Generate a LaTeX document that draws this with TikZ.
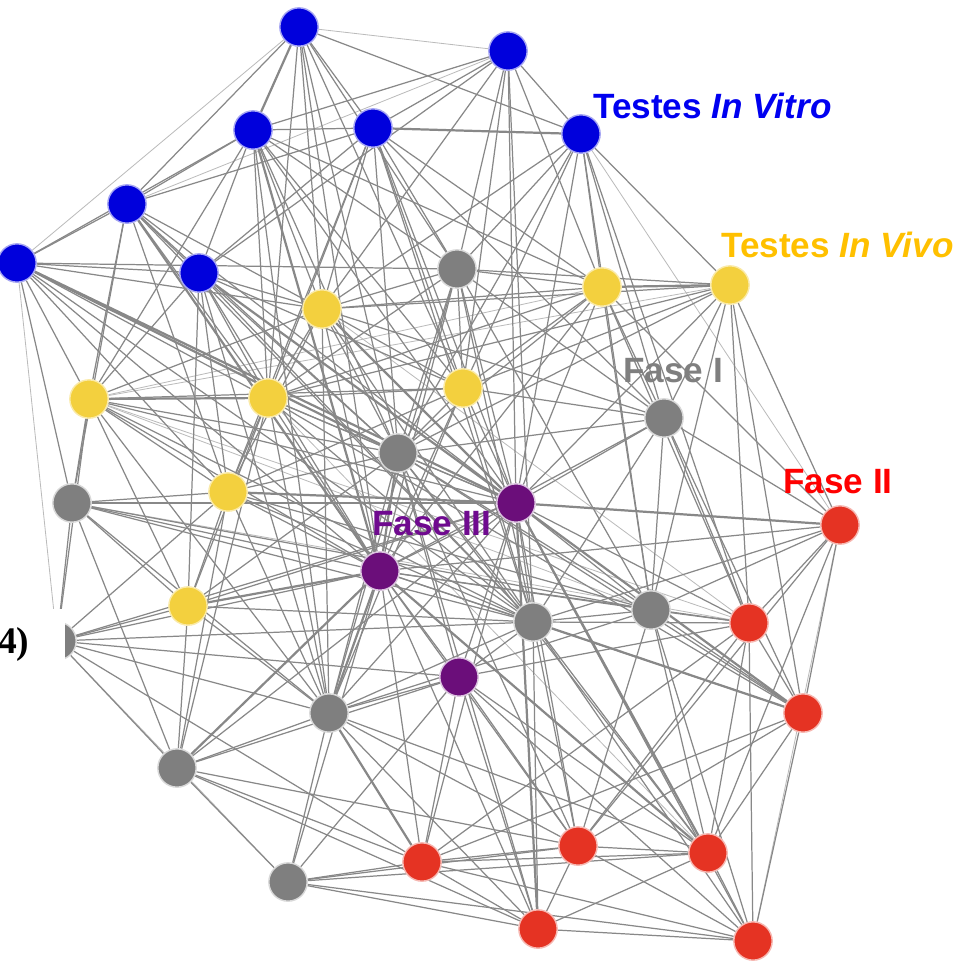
\documentclass[tikz,border=0pt]{standalone}
\usepackage{fontspec}
\setmainfont{Liberation Sans}
\newfontfamily\tagfont{Liberation Serif}
\usepackage{tikz}
\usetikzlibrary{backgrounds}
\definecolor{netBlue}{HTML}{0000DC}
\definecolor{netYellow}{HTML}{F3D03E}
\definecolor{netGray}{HTML}{7F7F7F}
\definecolor{netPurple}{HTML}{6B0E7A}
\definecolor{netRed}{HTML}{E53323}
\definecolor{netBlueText}{HTML}{0000F0}
\definecolor{netYellowText}{HTML}{FFC000}
\definecolor{netRedText}{HTML}{FF0000}
\definecolor{netPurpleText}{HTML}{6F0A8F}
\definecolor{netLink}{HTML}{888888}
\definecolor{netFaint}{HTML}{BBBBBB}
\tikzset{
  net diagram/.style={x=0.03cm, y=-0.03cm, line cap=round, line join=round},
  net node/.style={circle, minimum size=1.15cm, inner sep=0pt, line width=1.2pt},
  net vitro/.style={net node, fill=netBlue, draw=netBlue!35},
  net vivo/.style={net node, fill=netYellow, draw=netYellow!45},
  net fase one/.style={net node, fill=netGray, draw=netGray!30},
  net fase two/.style={net node, fill=netRed, draw=netRed!35},
  net fase three/.style={net node, fill=netPurple, draw=netPurple!25},
  net link/.style={draw=netLink, line width=1.05pt},
  net strong/.style={net link, line width=1.9pt},
  net faint/.style={draw=netFaint, line width=0.7pt},
  net label/.style={font=\bfseries\fontsize{30}{36}\selectfont, anchor=base west, inner sep=0pt}
}
\begin{document}
\begin{tikzpicture}[net diagram]
\useasboundingbox (0,0) rectangle (961,966);
\foreach \n/\x/\y in {b1/299/27,b2/508/51,b3/253/130,b4/373/128,b5/581/134,b6/127/204,b7/17/263,b8/199/273}
  \node[net vitro] (\n) at (\x,\y) {};
\foreach \n/\x/\y in {y1/322/309,y2/602/287,y3/730/285,y4/89/399,y5/268/398,y6/463/388,y7/228/492,y8/188/606}
  \node[net vivo] (\n) at (\x,\y) {};
\foreach \n/\x/\y in {g1/457/269,g2/664/418,g3/398/453,g4/72/503,g5/57/641,g6/533/622,g7/651/610,g8/329/713,g9/177/768,g10/288/882}
  \node[net fase one] (\n) at (\x,\y) {};
\foreach \n/\x/\y in {p1/516/503,p2/380/571,p3/459/677}
  \node[net fase three] (\n) at (\x,\y) {};
\foreach \n/\x/\y in {r1/840/525,r2/749/623,r3/803/713,r4/422/862,r5/578/846,r6/708/853,r7/538/929,r8/753/941}
  \node[net fase two] (\n) at (\x,\y) {};
\begin{scope}[on background layer]
\foreach \s/\t in {b7/g5,b1/b2,b2/b6,r1/r8,y3/y4,b5/r1,g5/g10,y1/r2,y4/g7,g4/r2,b1/b7,y2/y4,y5/r6,y4/r2}
  \draw[net faint] (\s) -- (\t);
\foreach \s/\ts in {
  b1/{b4,b6,b5,y1,y5,y6,g3,p2,g1},
  b2/{b3,b4,b5,g1,y2,y6,p1,y1,g6,b8},
  b3/{b4,b6,b7,b8,y1,y5,y4,g3,y6,g1,y2,p1,g8},
  b4/{b6,b8,y1,g1,y6,g3,p1,y5,y2,g2,g6,y7},
  b5/{y2,y3,g1,g2,y6,p1,g7,y1,g3,r2},
  b6/{b7,b8,y4,y5,y1,g3,p1,y7,g4,g6},
  b7/{b8,y4,g4,y5,y1,p2,y7,g1,g6},
  b8/{y1,y5,y4,g3,p2,y7,y6,g6,y8,g8},
  y1/{g1,y2,y6,y5,g3,p2,y4,y7,g6,g2,y3,g8},
  y2/{y6,g2,p1,y5,g3,r1,g7,p2,r2,g1},
  y3/{g2,r1,r2,r3,g1,y6,p1,g7,y5,g3},
  y4/{y6,g4,g5,y7,y8,p1,p2,g3,g6,g8},
  y5/{y6,g3,p1,p2,y7,y8,g8,g1,g6,r3,g9},
  y6/{g1,g3,p1,p2,g2,g6,y7,g8},
  y7/{y8,g3,p2,g4,g5,g8,g6,g7,g9},
  y8/{g4,g5,g9,p1,g8,g6,g3},
  g1/{g3,p1,p2,g2,g6,g8,g7},
  g2/{p1,g3,r1,r2,r3,g7,g6,p2},
  g3/{p1,g6,g8,r3,r5,p3,r6,r7,g7},
  g4/{g5,p2,g6,g7,g8,g9},
  g5/{p1,p2,g8,g9,g6,r4,p3},
  g6/{p1,p2,g7,r2,r5,r6,r7,g8,r1,p3,r8},
  g7/{p1,p2,r1,r2,r3,r6,r8,g8,r5},
  g8/{p1,g9,g10,r5,r7,p3,r6},
  g9/{p1,p3,r4,r5,g10,r7},
  g10/{p2,r4,r5,r7,r6,r8,p3},
  p1/{p2,p3,r2,r5,r8,r4},
  p2/{p3,r1,r4,r5,r7,r2,r3},
  p3/{r4,r5,r7,r8,r2,r6},
  r1/{r2,r3,r6,r5},
  r2/{r3,r4,r5,r6,r8},
  r3/{r5,r6,r8,r4},
  r4/{r5,r6,r7,r8},
  r5/{r6,r7,r8},
  r6/{r7,r8},
  r7/{r8}}
  \foreach \t in \ts
    \draw[net link] (\s) -- (\t);
\foreach \s/\t in {b7/p1,b6/p2,b8/p1,b4/b5,g4/p1,p1/r1,p1/r3,p2/r6,p1/r7,y1/p1,b3/p2,g3/p2,y8/p2,g6/r3,p2/g9,p2/g8,y7/p1,b7/g3,g8/r4,y2/y3,b1/b3,y4/y5,p1/r6}
  \draw[net strong] (\s) -- (\t);
\end{scope}
\node[net label, text=netBlueText] (vitro label) at (593,118) {Testes \textit{In Vitro}};
\node[net label, text=netYellowText] (vivo label) at (721,257) {Testes \textit{In Vivo}};
\node[net label, text=netGray] (fase one label) at (623,382) {Fase I};
\node[net label, text=netRedText] (fase two label) at (783,493) {Fase II};
\node[net label, text=netPurpleText] (fase three label) at (372,535) {Fase III};
\fill[white] (0,609) rectangle (65,672);
\node[font=\tagfont\bfseries\fontsize{32}{38}\selectfont, anchor=base west, inner sep=0pt] (tag) at (-2,653) {4)};
\end{tikzpicture}
\end{document}
